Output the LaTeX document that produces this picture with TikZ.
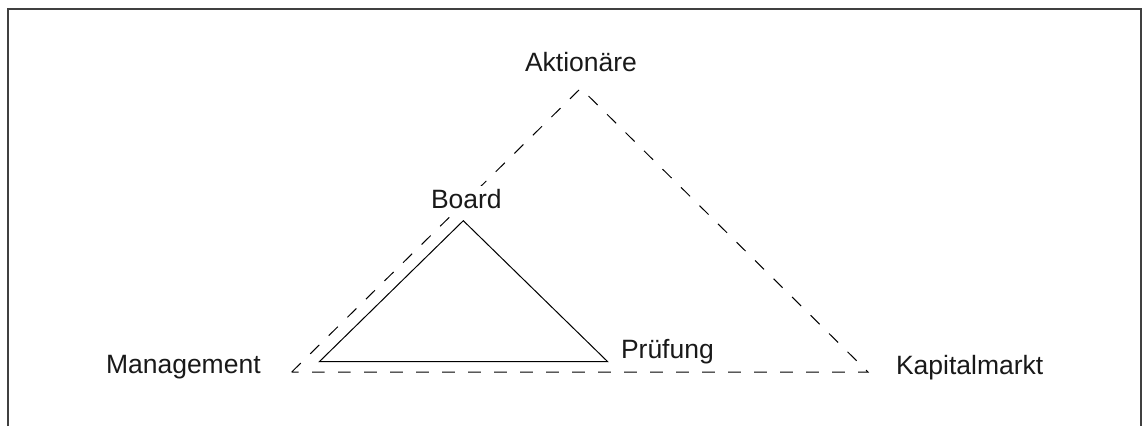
\documentclass[tikz,border=0pt]{standalone}
\usepackage{fontspec}
\setmainfont{Liberation Sans}
\begin{document}
\begin{tikzpicture}[x=1pt,y=1pt,
  lbl/.style={anchor=base west,inner sep=0pt,outer sep=0pt,font=\fontsize{26.5}{30}\selectfont,text=black!90},
  masked/.style={fill=white,inner xsep=1pt,inner ysep=3pt},
  frameline/.style={draw=black!75,line width=1.4pt},
  dashedtri/.style={draw=black,line width=1pt,dash pattern=on 12.7pt off 13.3pt},
  solidtri/.style={draw=black,line width=1pt,line join=miter}]
\useasboundingbox (0,0) rectangle (1142,426);
% frame (open at the bottom)
\coordinate (fbl) at (8,0);
\coordinate (ftl) at (8,417);
\coordinate (ftr) at (1141,417);
\coordinate (fbr) at (1141,0);
\draw[frameline] (fbl) -- (ftl) -- (ftr) -- (fbr);
% dashed triangle
\coordinate (A) at (580.7,337.7);
\coordinate (M) at (291.7,54);
\coordinate (K) at (868,54);
\draw[dashedtri] (M) -- (A) -- (K) -- cycle;
% solid triangle
\coordinate (B) at (463.3,205.3);
\coordinate (Mi) at (319.3,64.3);
\coordinate (P) at (607.7,64.3);
\draw[solidtri] (Mi) -- (B) -- (P) -- cycle;
% labels
\node[lbl] (tA) at (525,354.3) {Aktionäre};
\node[lbl,masked] (tB) at (430,217.7) {Board};
\node[lbl] (tP) at (621,68) {Prüfung};
\node[lbl] (tM) at (106,53) {Management};
\node[lbl] (tK) at (896,52) {Kapitalmarkt};
\end{tikzpicture}
\end{document}
